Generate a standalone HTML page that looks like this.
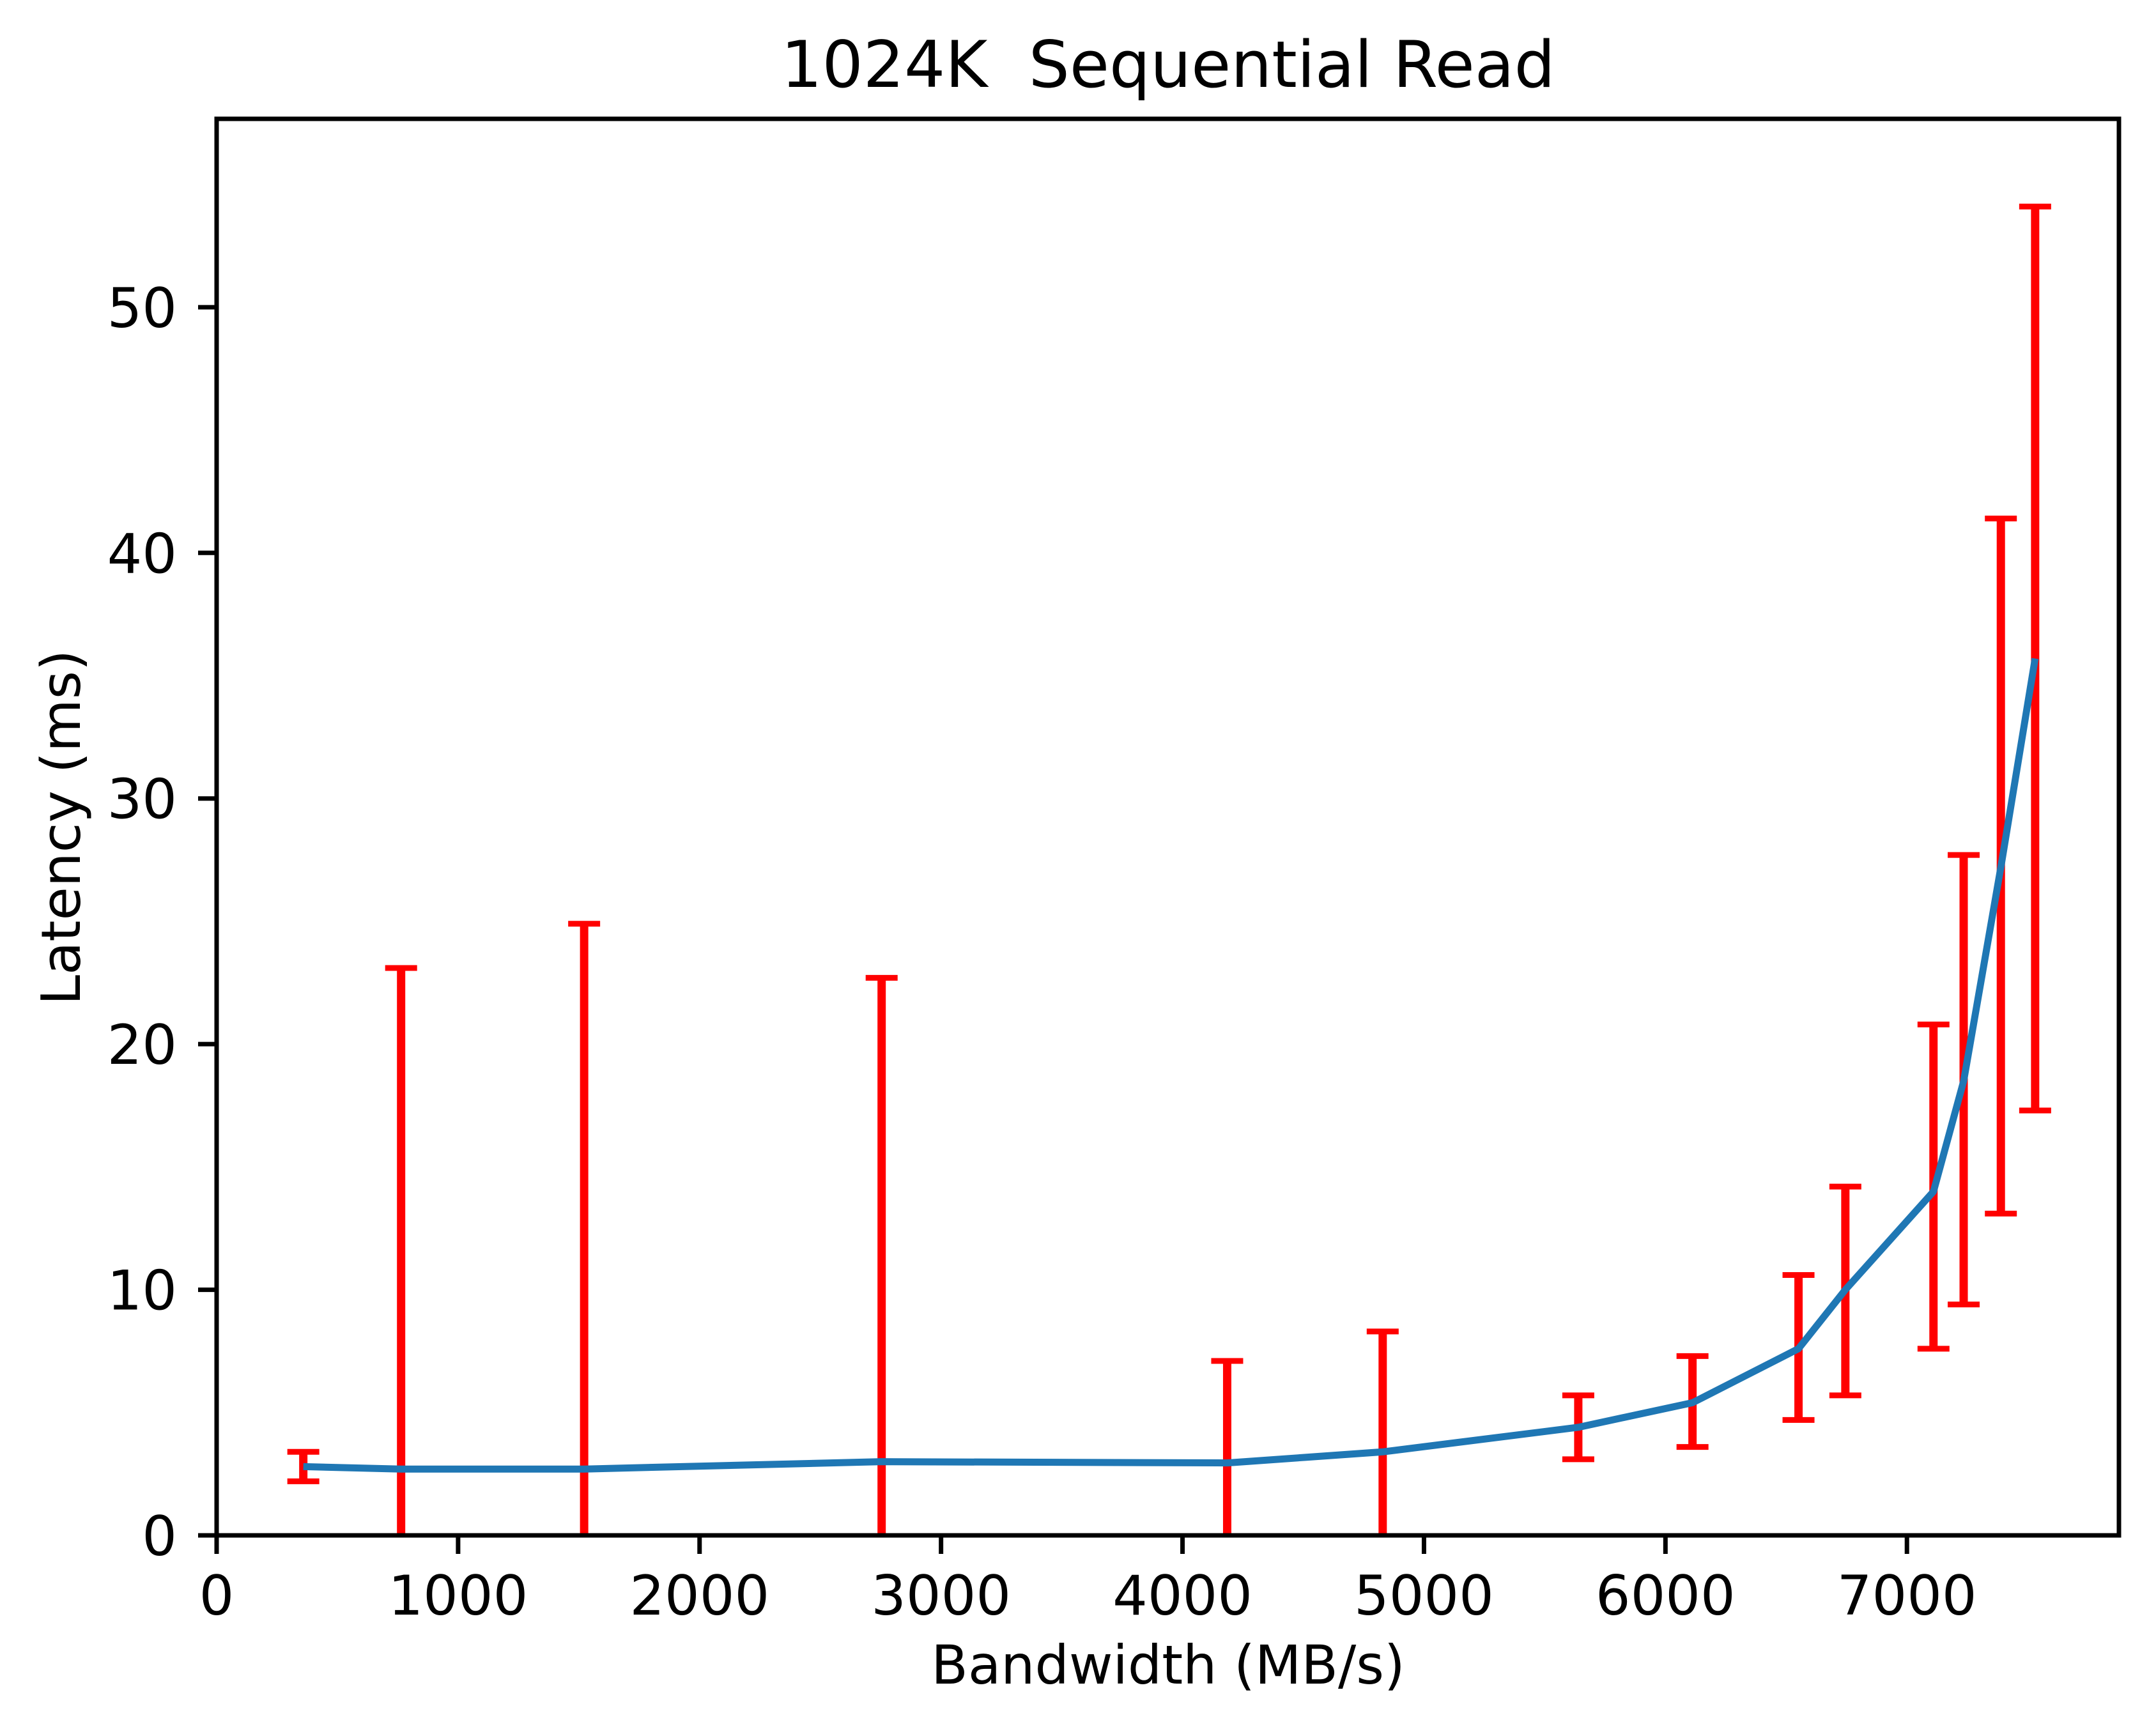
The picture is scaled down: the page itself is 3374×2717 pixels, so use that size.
<!DOCTYPE html>
<html><head><meta charset="utf-8"><style>html,body{margin:0;padding:0;background:#fff;overflow:hidden;width:3374px;height:2717px}svg{display:block}text{font-family:"DejaVu Sans","Liberation Sans",sans-serif;fill:#000}</style></head>
<body>
<svg id="chart" width="3374" height="2717" viewBox="0 0 3374 2717" xmlns="http://www.w3.org/2000/svg">
<defs><clipPath id="plotclip"><rect x="339" y="186" width="2977" height="2217"/></clipPath></defs>
<rect x="0" y="0" width="3374" height="2717" fill="#fff"/>
<text x="1828" y="136" font-size="101" text-anchor="middle" xml:space="preserve">1024K  Sequential Read</text>
<text x="1828" y="2635" font-size="84" text-anchor="middle">Bandwidth (MB/s)</text>
<text x="0" y="0" font-size="85" text-anchor="middle" transform="translate(125,1295) rotate(-90)">Latency (ms)</text>
<g id="ticks"></g>
<g id="marks" clip-path="url(#plotclip)"></g>
<rect x="339" y="186" width="2977" height="2217" fill="none" stroke="#000" stroke-width="7"/>
</svg>
<script>
const bandwidth = [359, 764, 1522, 2754, 4185, 4829, 5639, 6112, 6551, 6745, 7110, 7235, 7389, 7531];
const latency = [2.8, 2.7, 2.7, 3.0, 2.95, 3.4, 4.4, 5.4, 7.6, 10.0, 14.0, 18.5, 27.2, 35.7];
const errLow = [2.2, -17.7, -19.5, -16.7, -1.2, -1.5, 3.1, 3.6, 4.7, 5.7, 7.6, 9.4, 13.1, 17.3];
const errHigh = [3.4, 23.1, 24.9, 22.7, 7.1, 8.3, 5.7, 7.3, 10.6, 14.2, 20.8, 27.7, 41.4, 54.1];
const xTicks = [0, 1000, 2000, 3000, 4000, 5000, 6000, 7000];
const yTicks = [0, 10, 20, 30, 40, 50];

const L=339,R=3316,T=186,B=2403,XMAX=7878,YMAX=57.67;
const xs=v=>L+v/XMAX*(R-L);
const ys=v=>B-v/YMAX*(B-T);
const NS="http://www.w3.org/2000/svg";
function mk(tag,attrs,parent){const e=document.createElementNS(NS,tag);for(const k in attrs)e.setAttribute(k,attrs[k]);parent.appendChild(e);return e;}
const tg=document.getElementById('ticks'),mg=document.getElementById('marks');
xTicks.forEach(t=>{
  const l=mk('line',{x1:xs(t),x2:xs(t),y1:B,y2:B+29,stroke:'#000','stroke-width':7},tg);
  
  
  const tx=mk('text',{x:xs(t),y:2527,'font-size':86,'text-anchor':'middle'},tg);
  tx.textContent=t;
  
  
});
yTicks.forEach(t=>{
  const l=mk('line',{x1:L-29,x2:L,y1:ys(t),y2:ys(t),stroke:'#000','stroke-width':7},tg);
  
  
  const tx=mk('text',{x:277,y:ys(t)+31,'font-size':86,'text-anchor':'end'},tg);
  tx.textContent=t;
  
  
});
bandwidth.forEach((b,i)=>{
  const g=mk('g',{stroke:'#ff0000','stroke-width':13},mg);
  
  
  const x=xs(b);
  mk('line',{x1:x,x2:x,y1:ys(errLow[i]),y2:ys(errHigh[i])},g);
  mk('line',{x1:x-25,x2:x+25,y1:ys(errLow[i]),y2:ys(errLow[i]),'stroke-width':9},g);
  mk('line',{x1:x-25,x2:x+25,y1:ys(errHigh[i]),y2:ys(errHigh[i]),'stroke-width':9},g);
});
const p=mk('polyline',{points:bandwidth.map((b,i)=>xs(b)+','+ys(latency[i])).join(' '),fill:'none',stroke:'#1f77b4','stroke-width':11,'stroke-linejoin':'round'},mg);


</script>
</body></html>
